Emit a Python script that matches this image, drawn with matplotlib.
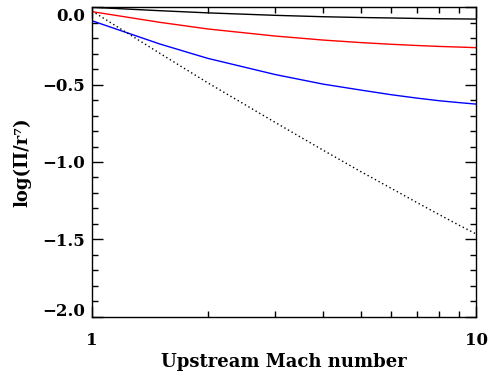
import numpy as np
import matplotlib
matplotlib.use("Agg")
import matplotlib.pyplot as plt
from matplotlib.ticker import MultipleLocator, FixedLocator, NullFormatter
from matplotlib.transforms import ScaledTranslation

# upstream Mach number samples
mach = [1, 1.5, 2, 3, 4, 5, 6, 7, 8, 9, 10]

# log(Pi / r^7) for each case
black_curve = [0.0, -0.022, -0.036, -0.052, -0.061, -0.066, -0.069, -0.072, -0.074, -0.075, -0.076]
red_curve = [-0.028, -0.097, -0.140, -0.186, -0.212, -0.228, -0.239, -0.247, -0.253, -0.257, -0.261]
blue_curve = [-0.087, -0.237, -0.330, -0.435, -0.497, -0.535, -0.565, -0.587, -0.604, -0.616, -0.626]
dotted_curve = [-0.024, -0.297, -0.488, -0.745, -0.925, -1.062, -1.170, -1.262, -1.340, -1.408, -1.466]

x_ticks = [1, 10]
x_ticklabels = ["1", "10"]
y_ticks = [0.0, -0.5, -1.0, -1.5, -2.0]
y_ticklabels = ["0.0", "\u22120.5", "\u22121.0", "\u22121.5", "\u22122.0"]

plt.rcParams["font.family"] = "DejaVu Serif"
plt.rcParams["font.weight"] = "bold"
plt.rcParams["axes.labelweight"] = "bold"
plt.rcParams["font.size"] = 12

fig = plt.figure(figsize=(4.88, 3.76), dpi=100)
ax = fig.add_axes([0.1885, 0.1577, 0.9764 - 0.1885, 0.9806 - 0.1577])

ax.plot(mach, black_curve, color="black", lw=1.0)
ax.plot(mach, red_curve, color="#ff0000", lw=1.0)
ax.plot(mach, blue_curve, color="#0000ff", lw=1.0)
ax.plot(mach, dotted_curve, color="black", lw=1.0, linestyle=(0, (1, 2)))

ax.set_xscale("log")
ax.set_xlim(1, 10)
ax.set_ylim(-2.0, 0.0)

ax.xaxis.set_major_locator(FixedLocator(x_ticks))
ax.set_xticklabels(x_ticklabels)
ax.xaxis.set_minor_locator(FixedLocator([2, 3, 4, 5, 6, 7, 8, 9]))
ax.xaxis.set_minor_formatter(NullFormatter())
ax.set_yticks(y_ticks)
ax.set_yticklabels(y_ticklabels)
ax.yaxis.set_minor_locator(MultipleLocator(0.1))

ax.tick_params(which="both", direction="in", top=True, right=True, width=1.0)
ax.tick_params(which="major", length=8)
ax.tick_params(which="minor", length=4)
ax.tick_params(axis="x", which="major", pad=11)
ax.tick_params(axis="y", which="major", pad=5)
for s in ax.spines.values():
    s.set_linewidth(1.0)

ax.set_xlabel("Upstream Mach number", fontsize=13, labelpad=3)
ax.set_ylabel("log(\u03a0/r\u2077)", fontsize=13, labelpad=8)

# end labels on the y axis sit inside the frame
ticks = ax.yaxis.get_major_ticks()
for t, dy in zip(ticks, [-7, 0, 0, 0, 7]):
    lab = t.label1
    lab.set_transform(lab.get_transform() + ScaledTranslation(0, dy / 100, fig.dpi_scale_trans))

fig.savefig("out.png", dpi=100)
